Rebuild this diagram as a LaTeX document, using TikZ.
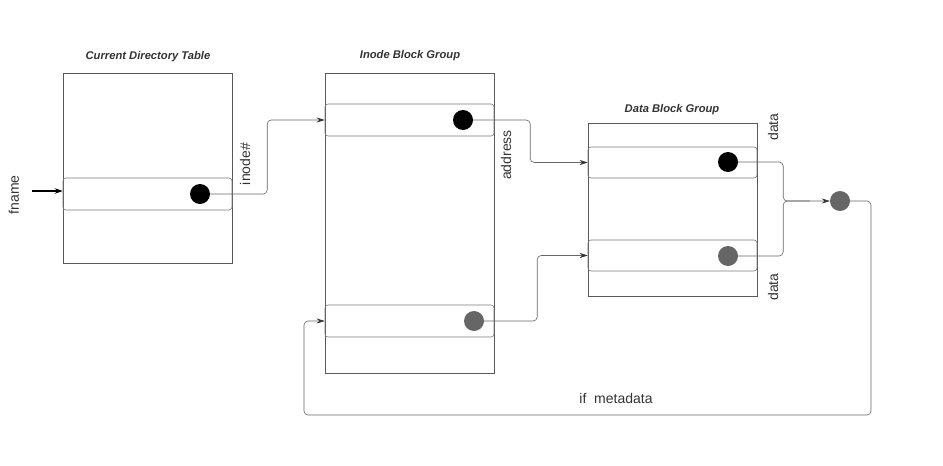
\documentclass[tikz,border=0pt]{standalone}
\usepackage{fontspec}
\setmainfont{Liberation Sans}
\usetikzlibrary{arrows.meta}
\definecolor{boxgray}{HTML}{5A5A5A}
\definecolor{rowgray}{HTML}{7A7A7A}
\definecolor{linegray}{HTML}{666666}
\definecolor{dotgray}{HTML}{666666}
\definecolor{titlegray}{HTML}{333333}
\begin{document}
\begin{tikzpicture}[x=1pt,y=-1pt,
  block/.style={draw=boxgray, line width=0.8pt, inner sep=0pt, minimum width=169pt},
  rowbox/.style={draw=rowgray, line width=0.6pt, rounded corners=3pt, inner sep=0pt, minimum width=169pt},
  dotblack/.style={circle, fill=black, inner sep=0pt, minimum size=20pt},
  dotgrey/.style={circle, fill=dotgray, inner sep=0pt, minimum size=20pt},
  title/.style={font=\fontsize{11.2}{13}\selectfont\bfseries\itshape, text=titlegray},
  lbl/.style={font=\fontsize{14}{16}\selectfont, text=titlegray},
  conn/.style={draw=linegray, line width=0.6pt, rounded corners=4pt, -{Stealth[length=8pt,width=5pt,color=titlegray]}},
  connnoarrow/.style={draw=linegray, line width=0.6pt, rounded corners=4pt},
  thickarrow/.style={draw=black, line width=1.2pt, -{Stealth[length=8pt,width=5.5pt]}}
]
\useasboundingbox (0,0) rectangle (943,466);

% blocks
\node[block, minimum height=190pt] (cdt) at (147.5,168) {};
\node[block, minimum height=300pt] (ibg) at (409.5,223) {};
\node[block, minimum height=173pt] (dbg) at (672.5,209.5) {};

% titles
\node[title] (cdtt) at (148,57) {Current Directory Table};
\node[title] (ibgt) at (410,56) {Inode Block Group};
\node[title] (dbgt) at (672,110) {Data Block Group};

% rows
\node[rowbox, minimum height=32pt] (cdtrow) at (147.5,194) {};
\node[rowbox, minimum height=32pt] (ibr1) at (409.5,120) {};
\node[rowbox, minimum height=32pt] (ibr2) at (409.5,321) {};
\node[rowbox, minimum height=31pt] (dbr1) at (672.5,162.5) {};
\node[rowbox, minimum height=31pt] (dbr2) at (672.5,255.5) {};

% dots
\node[dotblack] (cdtdot) at (200,194) {};
\node[dotblack] (ibd1) at (463,120) {};
\node[dotgrey] (ibd2) at (474,321) {};
\node[dotblack] (dbd1) at (728,162) {};
\node[dotgrey] (dbd2) at (728,256) {};
\node[dotgrey] (merge) at (840,201) {};

% labels
\node[lbl, rotate=90] (fname) at (14,195) {fname};
\node[lbl, rotate=90] (inode) at (245,164) {inode\#};
\node[lbl, rotate=90] (addr) at (506,155) {address};
\node[lbl, rotate=90] (data1) at (773,127) {data};
\node[lbl, rotate=90] (data2) at (773,287) {data};
\node[lbl] (ifmeta) at (616,398) {if\ \ metadata};

% connectors
\coordinate (fn) at (32,191);
\draw[thickarrow] (fn) -- (fn -| cdtrow.west);
\draw[conn] (cdtdot.east) -- ++(57,0) |- (ibr1.west);
\draw[conn] (ibd1.east) -- ++(57,0) |- (dbr1.west);
\draw[conn] (ibd2.east) -- ++(53,0) |- (dbr2.west);
\draw[conn] (dbd1.east) -- ++(45,0) |- (merge.west);
\draw[connnoarrow] (dbd2.east) -- ++(45,0) |- ([xshift=-20pt]merge.west);
\coordinate (loopR) at (871,415);
\coordinate (loopL) at (304,415);
\draw[conn] (merge.east) -| (loopR) -- (loopL) |- (ibr2.west);
\end{tikzpicture}
\end{document}
